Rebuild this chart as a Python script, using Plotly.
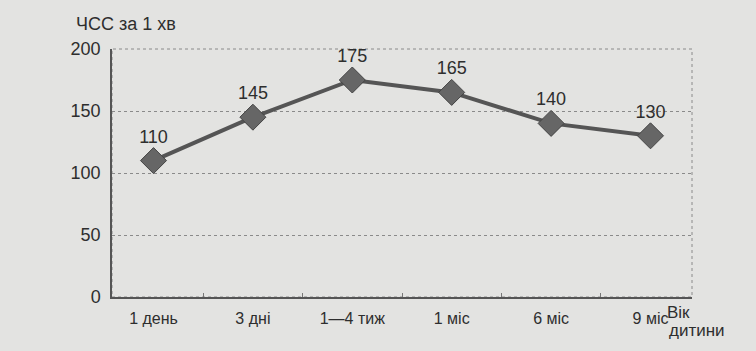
import plotly.graph_objects as go

categories = ["1 день", "3 дні", "1—4 тиж", "1 міс", "6 міс", "9 міс"]
hr_values = [110, 145, 175, 165, 140, 130]
y_ticks = [0, 50, 100, 150, 200]

BG = "#e3e3e1"
INK = "#2e2e2e"
FONT = "Liberation Sans"

fig = go.Figure()
fig.add_trace(go.Scatter(
    x=categories, y=hr_values, mode="lines+markers+text",
    text=[str(v) for v in hr_values], textposition="top center",
    textfont=dict(size=18, color=INK, family=FONT),
    line=dict(color="#555555", width=4),
    marker=dict(symbol="diamond", size=20, color="#666666",
                line=dict(color="#444444", width=1)),
    cliponaxis=False, showlegend=False,
))

fig.update_layout(
    width=756, height=351,
    margin=dict(l=112, r=64, t=49, b=54),
    paper_bgcolor=BG, plot_bgcolor=BG,
    font=dict(family=FONT, color=INK, size=17),
    xaxis=dict(type="category", showgrid=False, showline=True,
               linecolor="#555555", linewidth=1.5, mirror=False,
               ticks="inside", tickson="boundaries", ticklen=4, tickcolor="#777777",
               tickfont=dict(size=16), ticklabelstandoff=6),
    yaxis=dict(range=[0, 200], tickvals=y_ticks, showgrid=True,
               gridcolor="#8a8a8a", griddash="dot", gridwidth=1,
               showline=True, linecolor="#555555", linewidth=1.5,
               ticks="", tickfont=dict(size=18), zeroline=False,
               ticklabelstandoff=6),
    shapes=[dict(type="rect", xref="paper", yref="paper", x0=0, x1=1, y0=0, y1=1,
                 line=dict(color="#8a8a8a", width=1, dash="dot"), layer="below")],
    annotations=[
        dict(text="ЧСС за 1 хв", xref="paper", yref="paper", x=-0.066, y=1.0,
             yshift=25, xanchor="left", yanchor="middle", showarrow=False,
             font=dict(size=18, color=INK)),
        dict(text="Вік", xref="paper", yref="paper", x=1.0, y=0,
             xshift=-27, yshift=-15, xanchor="left", yanchor="middle",
             showarrow=False, font=dict(size=17, color=INK)),
        dict(text="дитини", xref="paper", yref="paper", x=1.0, y=0,
             xshift=-25, yshift=-33, xanchor="left", yanchor="middle",
             showarrow=False, font=dict(size=17, color=INK)),
    ],
)

fig.write_html("out.html")
